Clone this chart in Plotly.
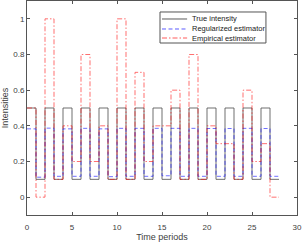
import plotly.graph_objects as go

periods = list(range(1, 29))
true_intensity = [0.5, 0.1] * 14
regularized = [0.383, 0.112, 0.387, 0.117, 0.383, 0.117, 0.386, 0.117, 0.383, 0.115,
               0.386, 0.117, 0.386, 0.117, 0.386, 0.12, 0.386, 0.117, 0.386, 0.117,
               0.385, 0.117, 0.385, 0.117, 0.386, 0.117, 0.385, 0.117]
empirical = [0.5, 0.0, 1.0, 0.1, 0.4, 0.2, 0.8, 0.2, 0.4, 0.1,
             1.0, 0.1, 0.7, 0.2, 0.4, 0.4, 0.6, 0.1, 0.8, 0.1,
             0.4, 0.3, 0.3, 0.1, 0.6, 0.2, 0.3, 0.0]
x_ticks = [0, 5, 10, 15, 20, 25, 30]
y_ticks = [0, 0.2, 0.4, 0.6, 0.8, 1]
series_names = ["True intensity", "Regularized estimator", "Empirical estimator"]

styles = [("#000000", "solid"), ("#0000ff", "4px,2.5px"), ("#ff0000", "5px,2px,1.5px,2px")]


def steps(vals):
    xs = [p - 1 for p in periods] + [periods[-1]]
    ys = list(vals) + [vals[-1]]
    return xs, ys


fig = go.Figure()
for name, vals, (color, dash) in zip(series_names, [true_intensity, regularized, empirical], styles):
    xs, ys = steps(vals)
    fig.add_trace(go.Scatter(x=xs, y=ys, mode="lines", name=name, showlegend=False,
                             line=dict(shape="hv", color=color, dash=dash, width=0.8),
                             opacity=0.7, hoverinfo="skip"))

axis_common = dict(showgrid=False, zeroline=False, showline=True, mirror="ticks",
                   linecolor="#555555", linewidth=1, ticks="inside", ticklen=3,
                   tickcolor="#555555", tickfont=dict(size=8, color="#404040"),
                   automargin=False)

fig.update_layout(
    width=303, height=243,
    margin=dict(l=27, r=6, t=1, b=28),
    paper_bgcolor="white", plot_bgcolor="white",
    font=dict(family="Liberation Sans, Arial, sans-serif", size=8, color="#404040"),
    xaxis=dict(range=[0, 30], tickvals=x_ticks, ticklabelstandoff=4,
               title=dict(text="Time periods", font=dict(size=9), standoff=1),
               **axis_common),
    yaxis=dict(range=[-0.1, 1.1], tickvals=y_ticks, ticktext=[str(v) for v in y_ticks],
               title=dict(text="Intensities", font=dict(size=9), standoff=3),
               **axis_common),
    showlegend=False,
)

# custom compact legend (paper coordinates)
lx0, lx1, ly0, ly1 = 0.4926, 0.885, 0.8037, 0.9486
fig.add_shape(type="rect", xref="paper", yref="paper", x0=lx0, x1=lx1, y0=ly0, y1=ly1,
              line=dict(color="#555555", width=1), fillcolor="white", layer="above")
row_y = [0.9159, 0.8692, 0.8271]
for name, (color, dash), ry in zip(series_names, styles, row_y):
    fig.add_shape(type="line", xref="paper", yref="paper", x0=0.5, x1=0.593, y0=ry, y1=ry,
                  line=dict(color=color, dash=dash, width=0.8), opacity=0.8, layer="above")
    fig.add_annotation(xref="paper", yref="paper", x=0.6037, y=ry, text=name,
                       showarrow=False, xanchor="left", yanchor="middle",
                       font=dict(size=7.5, color="#222222"))

fig.write_html("out.html", config={"displayModeBar": False},
               post_script="document.body.style.margin='0';document.body.style.overflow='hidden';")
